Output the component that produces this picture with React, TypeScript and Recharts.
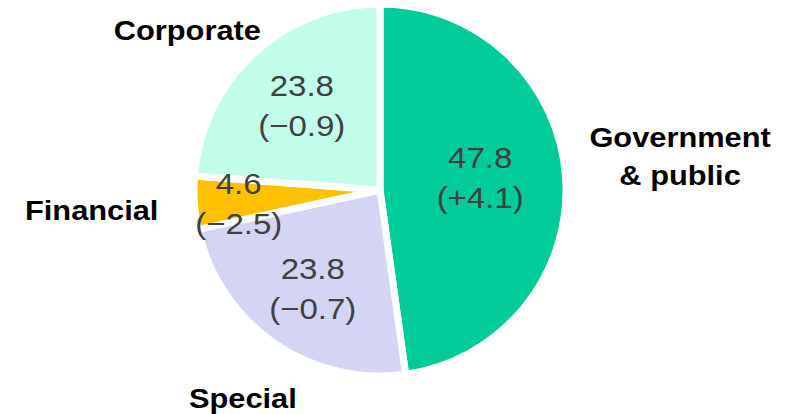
import React from "react";
import { PieChart, Pie, Cell } from "recharts";

const categories = ["Government\n& public", "Special", "Financial", "Corporate"];
const shares = [47.8, 23.8, 4.6, 23.8];
const changes = [4.1, -0.7, -2.5, -0.9];
const colors = ["#00CC99", "#D4D4F4", "#FFC000", "#C2FCEB"];

// label placement (radius in px from centre, angle offset in degrees from slice mid-angle)
const valueLabelPolar = [
  { r: 101, da: 3.4 },
  { r: 119, da: 0.5 },
  { r: 142, da: 1.7 },
  { r: 115, da: 0 },
];
const nameLabelPolar = [
  { r: 302, da: 2.5 },
  { r: 249, da: 1.5 },
  { r: 289, da: 0 },
  { r: 251, da: 7.3 },
];

const data = categories.map((name, i) => ({
  name,
  value: shares[i],
  change: changes[i],
}));

const RAD = Math.PI / 180;
const STRETCH = 1.1;

const fmtChange = (c: number) =>
  "(" + (c >= 0 ? "+" : "\u2212") + Math.abs(c).toFixed(1) + ")";

const renderLabel = (props: any) => {
  const { cx, cy, midAngle, index } = props;
  const v = valueLabelPolar[index];
  const n = nameLabelPolar[index];
  const va = (midAngle + v.da) * RAD;
  const na = (midAngle + n.da) * RAD;
  const vx = cx + v.r * Math.cos(va);
  const vy = cy - v.r * Math.sin(va);
  const nx = cx + n.r * Math.cos(na);
  const ny = cy - n.r * Math.sin(na);
  const lines = data[index].name.split("\n");
  const lh = 38;
  const startY = -((lines.length - 1) * lh) / 2;
  return (
    <g>
      <g transform={`translate(${vx},${vy}) scale(${STRETCH},1)`}>
        <text
          textAnchor="middle"
          dominantBaseline="central"
          fill="#404040"
          fontSize={30}
          fontFamily="'Liberation Sans', Arial, sans-serif"
        >
          <tspan x={0} y={-20}>
            {data[index].value.toFixed(1)}
          </tspan>
          <tspan x={0} y={20}>
            {fmtChange(data[index].change)}
          </tspan>
        </text>
      </g>
      <g transform={`translate(${nx},${ny}) scale(${STRETCH},1)`}>
        <text
          textAnchor="middle"
          dominantBaseline="central"
          fill="#000000"
          fontSize={28}
          fontWeight="bold"
          fontFamily="'Liberation Sans', Arial, sans-serif"
        >
          {lines.map((l, i) => (
            <tspan key={i} x={0} y={startY + i * lh}>
              {l}
            </tspan>
          ))}
        </text>
      </g>
    </g>
  );
};

export default function App() {
  return (
    <PieChart width={790} height={406} margin={{ top: 0, right: 0, bottom: 0, left: 0 }}>
      <Pie
        data={data}
        dataKey="value"
        nameKey="name"
        cx={372}
        cy={182}
        outerRadius={186}
        startAngle={90}
        endAngle={-270}
        stroke="#FFFFFF"
        strokeWidth={7}
        label={renderLabel}
        labelLine={false}
        isAnimationActive={false}
      >
        {data.map((d, i) => (
          <Cell key={d.name} fill={colors[i]} />
        ))}
      </Pie>
    </PieChart>
  );
}
